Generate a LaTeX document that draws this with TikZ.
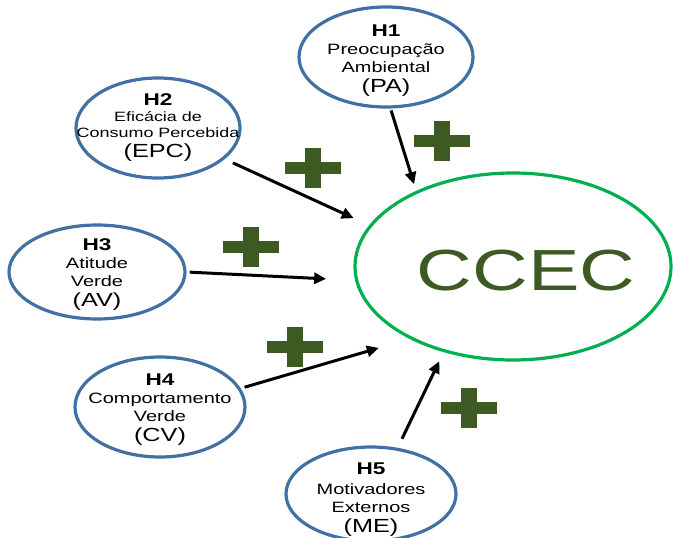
\documentclass[tikz,border=0pt]{standalone}
\usepackage{fontspec}
\setmainfont{Liberation Sans}[FakeStretch=1.33]
\usetikzlibrary{shapes.geometric,arrows.meta}
\definecolor{hypblue}{RGB}{65,113,163}
\definecolor{ccecgreen}{RGB}{0,176,80}
\definecolor{plusgreen}{RGB}{62,90,35}
\newcommand{\plussign}[2]{
        \begin{scope}[shift={(#1,#2)}]
        \fill[plusgreen] (-28,-6) rectangle (28,6);
        \fill[plusgreen] (-8,-20) rectangle (8,20);
        \end{scope}
}

\begin{document}
\begin{tikzpicture}[x=1pt, y=-1pt,
        hyp/.style={shape=ellipse, draw=hypblue, line width=3.2pt, fill=white,
                inner xsep=-40pt, inner ysep=-30pt, align=center,
                font=\fontsize{15}{18}\selectfont},
        arr/.style={-{Triangle[length=12pt,width=11pt]}, line width=3pt, black}]
        \useasboundingbox (0,0) rectangle (673,538);

        %hypotheses
        \node[hyp, minimum width=174pt, minimum height=100pt] (h1) at (386,57)
                {{\rule{0pt}{19.5pt}\bfseries\fontsize{17}{18}\selectfont H1}\\Preocupação\\Ambiental\\[2pt]{\fontsize{19}{18}\selectfont (PA)}};
        \node[hyp, minimum width=164pt, minimum height=100pt, font=\fontsize{13.5}{16}\selectfont] (h2) at (158,128)
                {{\bfseries\fontsize{17}{18}\selectfont H2}\\Eficácia de\\Consumo Percebida\\[4pt]{\fontsize{19}{18}\selectfont (EPC)}};
        \node[hyp, minimum width=176pt, minimum height=94pt] (h3) at (97,272)
                {{\rule{0pt}{16.5pt}\bfseries\fontsize{17}{18}\selectfont H3}\\Atitude\\Verde\\[2pt]{\fontsize{19}{18}\selectfont (AV)}};
        \node[hyp, minimum width=170pt, minimum height=100pt] (h4) at (160,407)
                {{\rule{0pt}{16.5pt}\bfseries\fontsize{17}{18}\selectfont H4}\\Comportamento\\Verde\\[2pt]{\fontsize{19}{18}\selectfont (CV)}};
        \node[hyp, minimum width=170pt, minimum height=94pt] (h5) at (371,494)
                {{\rule{0pt}{22pt}\bfseries\fontsize{17}{18}\selectfont H5}\\[2pt]Motivadores\\Externos\\[2pt]{\fontsize{19}{18}\selectfont (ME)}};

        %dependent construct
        \node[shape=ellipse, draw=ccecgreen, line width=3.2pt, inner sep=-60pt,
                minimum width=316pt, minimum height=187pt, text=plusgreen,
                text height=48pt, font=\fontsize{58}{60}\selectfont] (ccec) at (513,266.5) {\hspace*{26pt}CCEC};

        %arrows into ccec
        \path[arr] (h1.-85) edge [shorten <=2pt, shorten >=7pt] (ccec.142);
        \path[arr] (h2.-25) edge [shorten <=9pt, shorten >=17pt] (ccec.164);
        \path[arr] (h3.east) edge [shorten <=3pt, shorten >=29pt] (ccec.185);
        \path[arr] (h4.13) edge [shorten <=4pt, shorten >=32pt] (ccec.215);
        \path[arr] (h5.60) edge [shorten <=10pt, shorten >=10pt] (ccec.231);

        %plus signs
        \plussign{442}{141}
        \plussign{313}{168}
        \plussign{250.5}{247}
        \plussign{295}{347}
        \plussign{469}{408}
\end{tikzpicture}
\end{document}
